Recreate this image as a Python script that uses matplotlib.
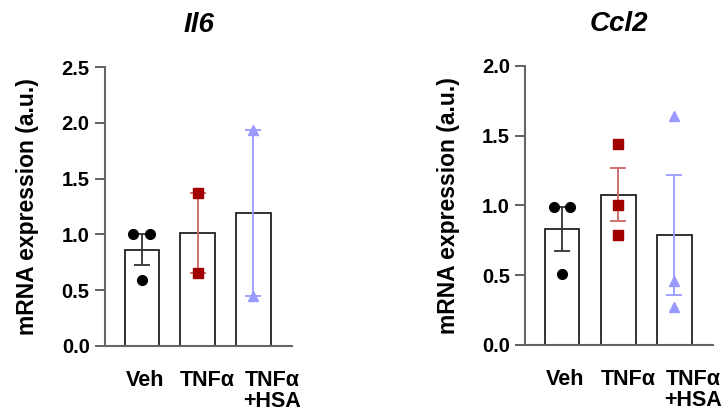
import numpy as np
import matplotlib
matplotlib.use("Agg")
import matplotlib.pyplot as plt
from matplotlib.transforms import ScaledTranslation

plt.rcParams['font.family'] = ['Liberation Sans', 'DejaVu Sans']
plt.rcParams['font.weight'] = 'bold'

groups = ['Veh', 'TNFα', 'TNFα\n+HSA']

# individual replicate values
il6_veh = [1.0, 1.0, 0.59]
il6_tnf = [1.37, 0.65]
il6_hsa = [1.94, 0.45]

ccl2_veh = [0.99, 0.99, 0.51]
ccl2_tnf = [1.44, 1.0, 0.79]
ccl2_hsa = [1.64, 0.46, 0.27]

il6_ticks = [0.0, 0.5, 1.0, 1.5, 2.0, 2.5]
ccl2_ticks = [0.0, 0.5, 1.0, 1.5, 2.0]

marker_styles = ['o', 's', '^']
marker_colors = ['black', '#A00000', '#9999FF']
err_colors = ['#333333', '#CC6666', '#9999FF']
label_shift = [3, 10, 19]  # pixels, labels drift right like in the original


def draw_panel(ax, data, title, ticks):
    x = np.arange(len(data))
    means = [np.mean(d) for d in data]
    sems = [np.std(d, ddof=1) / np.sqrt(len(d)) for d in data]

    ax.bar(x, means, width=0.62, color='white', edgecolor='#222222',
           linewidth=1.3, zorder=1)
    for i in range(len(data)):
        ax.errorbar(x[i], means[i], yerr=sems[i], color=err_colors[i],
                    capsize=6, elinewidth=1.3, capthick=1.3, zorder=2)
        vals = np.array(data[i])
        # spread equal values sideways
        offs = np.zeros(len(vals))
        for v in np.unique(vals):
            idx = np.where(np.isclose(vals, v))[0]
            if len(idx) > 1:
                offs[idx] = np.linspace(-0.15, 0.15, len(idx))
        ax.plot(x[i] + offs, vals, linestyle='none', marker=marker_styles[i],
                color=marker_colors[i], markersize=7, zorder=3)

    ax.set_xlim(-0.66, 2.69)
    ax.set_ylim(0, ticks[-1])
    ax.set_yticks(ticks)
    ax.set_yticklabels([f'{t:.1f}' for t in ticks])
    ax.set_xticks(x)
    ax.tick_params(axis='x', length=0, pad=17)
    ax.tick_params(axis='y', length=7, width=1.3, color='#555555',
                   labelsize=14.5, pad=4)
    ax.set_xticklabels(groups, fontsize=15.5, fontweight='bold',
                       linespacing=1.0, va='top')
    for lab, dx in zip(ax.get_xticklabels(), label_shift):
        lab.set_transform(lab.get_transform() +
                          ScaledTranslation(dx / 100, 0, ax.figure.dpi_scale_trans))
    for lab in ax.get_yticklabels():
        lab.set_fontweight('bold')
    for side in ['top', 'right']:
        ax.spines[side].set_visible(False)
    for side in ['left', 'bottom']:
        ax.spines[side].set_color('#666666')
        ax.spines[side].set_linewidth(1.5)
    ax.set_ylabel('mRNA expression (a.u.)', fontsize=16.5, fontweight='bold',
                  labelpad=16)
    ax.set_title(title, fontsize=20, fontweight='bold', style='italic',
                 pad=25)


fig = plt.figure(figsize=(7.28, 4.17), dpi=100)
ax1 = fig.add_axes([0.1442, 0.1703, 0.2569, 0.669])
ax2 = fig.add_axes([0.7212, 0.1727, 0.2582, 0.6698])

draw_panel(ax1, [il6_veh, il6_tnf, il6_hsa], 'Il6', il6_ticks)
draw_panel(ax2, [ccl2_veh, ccl2_tnf, ccl2_hsa], 'Ccl2', ccl2_ticks)

fig.savefig('out.png', dpi=100)
